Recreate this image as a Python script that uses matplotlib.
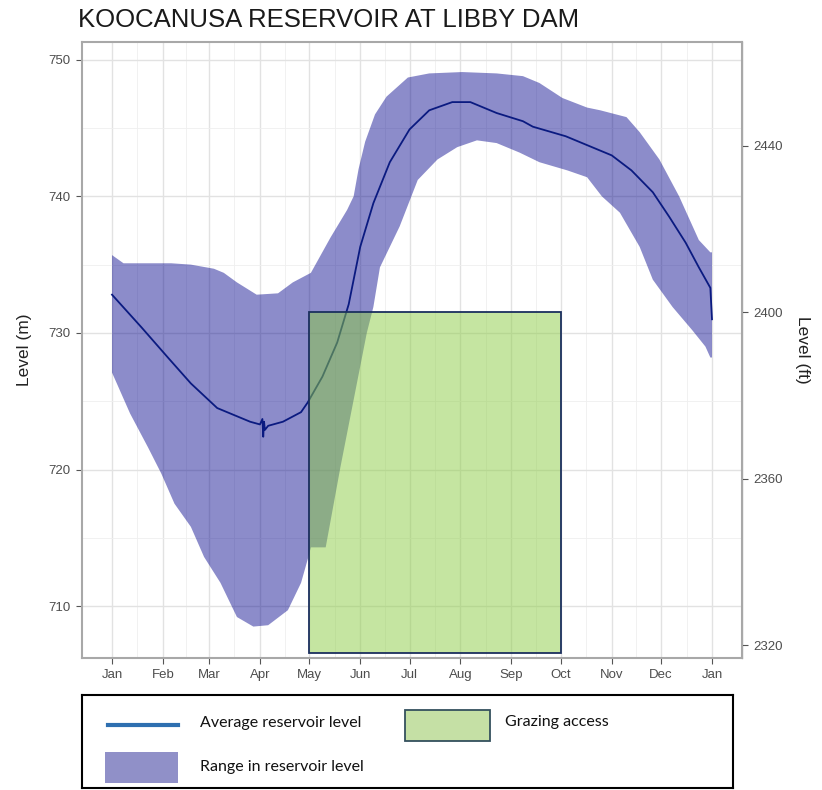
import matplotlib
matplotlib.use("Agg")
import matplotlib.pyplot as plt
from matplotlib.patches import Rectangle
from matplotlib.lines import Line2D

# day of year (0 = Jan 1) and level in metres
upper_day = [0, 7, 22, 36, 48, 62, 68, 76, 88, 101, 110, 121, 133, 143, 147, 150,
             154, 160, 167, 180, 193, 213, 234, 250, 260, 274, 289, 297, 313, 321,
             333, 345, 357, 364, 365]
upper_lvl = [735.7, 735.1, 735.1, 735.1, 735.0, 734.7, 734.4, 733.7, 732.8, 732.9,
             733.7, 734.4, 737.0, 739.0, 740.0, 742.0, 744.0, 746.0, 747.3, 748.7,
             749.0, 749.1, 749.0, 748.8, 748.3, 747.2, 746.5, 746.3, 745.8, 744.7,
             742.7, 740.0, 736.8, 735.9, 735.9]

lower_day = [0, 11, 22, 30, 38, 48, 56, 66, 76, 86, 95, 107, 115, 119, 121, 130,
             139, 147, 155, 159, 163, 175, 186, 198, 210, 222, 234, 248, 260, 277,
             289, 298, 309, 321, 329, 341, 353, 361, 364, 365]
lower_lvl = [727.1, 724.1, 721.6, 719.7, 717.5, 715.8, 713.6, 711.7, 709.2, 708.5,
             708.6, 709.7, 711.7, 713.4, 714.3, 714.3, 720.2, 725.1, 730.0, 731.9,
             734.8, 737.8, 741.2, 742.7, 743.6, 744.1, 743.9, 743.2, 742.5, 741.9,
             741.4, 740.0, 738.8, 736.3, 733.9, 731.9, 730.2, 729.0, 728.2, 728.2]

mean_day = [0, 18, 34, 48, 64, 72, 84, 90, 91.5, 92, 92.5, 93, 95, 104, 115, 119,
            128, 137, 144, 151, 159, 169, 181, 193, 207, 218, 234, 250, 256, 276,
            296, 304, 316, 329, 339, 349, 357, 364, 365]
mean_lvl = [732.8, 730.4, 728.2, 726.3, 724.5, 724.1, 723.5, 723.3, 723.7, 722.4,
            723.5, 722.9, 723.2, 723.5, 724.2, 724.9, 726.8, 729.3, 732.1, 736.3,
            739.5, 742.5, 744.9, 746.3, 746.9, 746.9, 746.1, 745.5, 745.1, 744.4,
            743.4, 743.0, 741.9, 740.3, 738.5, 736.6, 734.8, 733.3, 731.0]

# grazing access window: May 1 to Oct 1, up to 2400 ft
graze_start = 120
graze_end = 273
graze_low = 706.6
graze_high = 731.52

month_days = [0, 31, 59, 90, 120, 151, 181, 212, 243, 273, 304, 334, 365]
month_names = ['Jan', 'Feb', 'Mar', 'Apr', 'May', 'Jun', 'Jul', 'Aug', 'Sep',
               'Oct', 'Nov', 'Dec', 'Jan']
m_ticks = [710, 720, 730, 740, 750]
ft_ticks = [2320, 2360, 2400, 2440]

FT = 3.28084
tick_col = '#4d4d4d'

plt.rcParams['font.family'] = ['Liberation Sans', 'DejaVu Sans']

fig = plt.figure(figsize=(8.22, 7.90), dpi=100)
ax = fig.add_axes([82 / 822, 1 - 658 / 790, 660 / 822, 616 / 790])

# range band
poly_x = upper_day + lower_day[::-1]
poly_y = upper_lvl + lower_lvl[::-1]
ax.fill(poly_x, poly_y, color='#00008b', alpha=0.45, lw=0, zorder=2)
ax.plot(mean_day, mean_lvl, color='#0a1a80', lw=1.3, zorder=3)
ax.add_patch(Rectangle((graze_start, graze_low), graze_end - graze_start,
                       graze_high - graze_low,
                       facecolor=(141 / 255, 205 / 255, 69 / 255, 0.5),
                       edgecolor='#1b2f5e', lw=1.3, zorder=4))

ax.set_xlim(-18.25, 383.25)
ax.set_ylim(706.2, 751.3)
ax.set_xticks(month_days)
ax.set_xticklabels(month_names)
ax.set_xticks([(month_days[i] + month_days[i + 1]) / 2 for i in range(12)], minor=True)
ax.set_yticks(m_ticks)
ax.set_yticks([715, 725, 735, 745], minor=True)
ax.grid(which='major', color='#e2e2e2', lw=1.0, zorder=0)
ax.grid(which='minor', color='#efefef', lw=0.6, zorder=0)
ax.set_axisbelow(True)
ax.tick_params(which='major', length=4, color='#555555', labelcolor=tick_col,
               labelsize=9.5, pad=4)
ax.tick_params(which='minor', length=0)
for s in ax.spines.values():
    s.set_color('#a8a8a8')
    s.set_linewidth(1.5)
ax.set_ylabel('Level (m)', fontsize=12.5, color='#222222', labelpad=12)

sec = ax.secondary_yaxis('right', functions=(lambda m: m * FT, lambda f: f / FT))
sec.set_yticks(ft_ticks)
sec.tick_params(length=4, color='#555555', labelcolor=tick_col, labelsize=9.5, pad=4)
sec.set_ylabel('Level (ft)', fontsize=12.5, color='#222222', rotation=270, labelpad=20)

fig.text(78 / 822, 1 - 20 / 790, 'KOOCANUSA RESERVOIR AT LIBBY DAM', fontsize=18.5,
         color='#1a1a1a', ha='left', va='center')

# legend box, drawn in picture pixels
lg = fig.add_axes([82 / 822, 1 - 788 / 790, 651 / 822, 93 / 790])
lg.set_xlim(82, 733)
lg.set_ylim(788, 695)
lg.set_xticks([])
lg.set_yticks([])
for s in lg.spines.values():
    s.set_color('black')
    s.set_linewidth(1.5)
lg.add_line(Line2D([108, 178], [725, 725], color='#2e6fb0', lw=3))
lg.add_patch(Rectangle((105, 752), 73, 31, facecolor='#9090c8', edgecolor='none'))
lg.add_patch(Rectangle((405, 710), 85, 31, facecolor='#c5e0a5', edgecolor='#34505e', lw=1.3))
lfont = dict(family=['Lato', 'DejaVu Sans'], fontsize=11.5, color='#111111', va='center')
lg.text(200, 723, 'Average reservoir level', **lfont)
lg.text(200, 767, 'Range in reservoir level', **lfont)
lg.text(505, 722, 'Grazing access', **lfont)

fig.savefig('out.png', dpi=100)
